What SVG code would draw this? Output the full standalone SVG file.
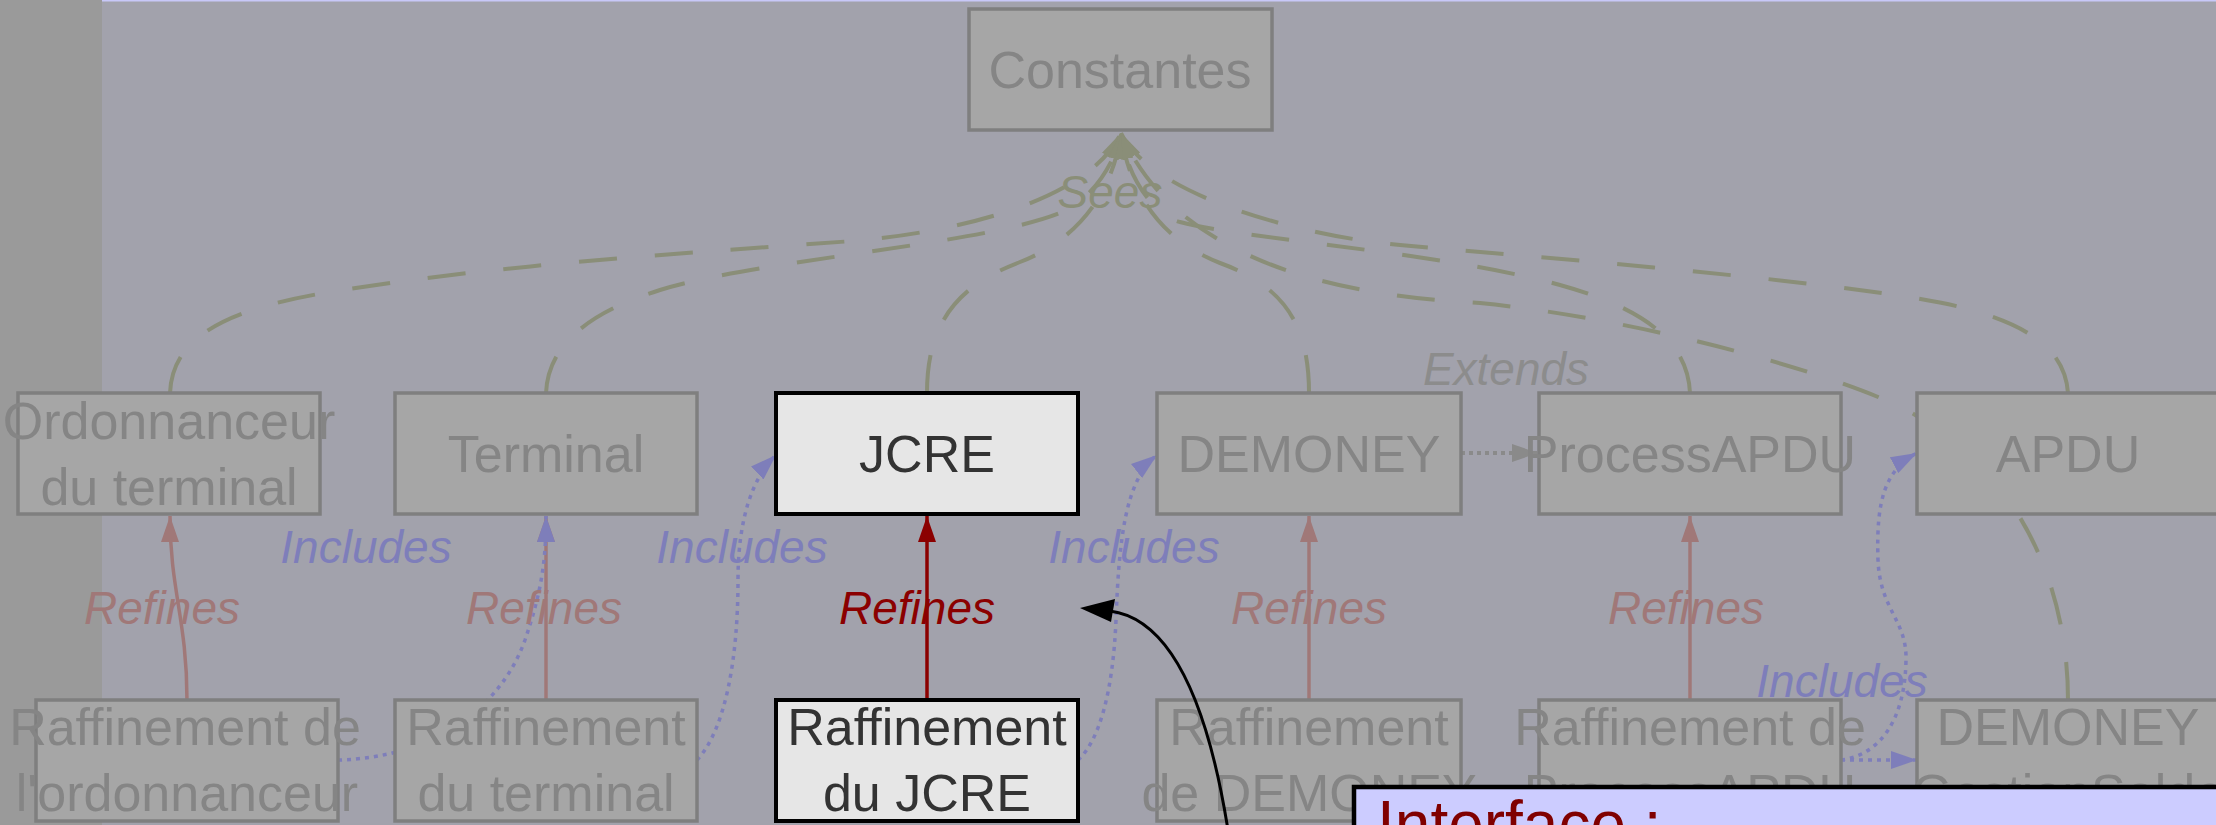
<svg xmlns="http://www.w3.org/2000/svg" width="2216" height="825" viewBox="0 0 2216 825">
<style>
.node rect{fill:#a6a6a6;stroke:#7f7f7f;stroke-width:3.5}
.node text{font-family:"Liberation Sans",Arial,sans-serif;font-size:52px;fill:#858585;text-anchor:middle}
.node.hl rect{fill:#e6e6e6;stroke:#000;stroke-width:4}
.node.hl text{fill:#333333}
.sees{fill:none;stroke:#8a8e78;stroke-width:4;stroke-dasharray:38 38;marker-end:url(#aS)}
.ref{fill:none;stroke:#a07878;stroke-width:3.5;marker-end:url(#aR)}
.ref.hl{stroke:#8b0000;marker-end:url(#aRh)}
.inc{fill:none;stroke:#7e7eba;stroke-width:3.5;stroke-dasharray:4 5;marker-end:url(#aI)}
.ext{fill:none;stroke:#8a8a8a;stroke-width:4;stroke-dasharray:4 4;marker-end:url(#aE)}
.lbl{font-family:"Liberation Sans",Arial,sans-serif;font-style:italic;font-size:46px;text-anchor:middle}
</style>
<defs>
<marker id="aS" markerUnits="userSpaceOnUse" viewBox="0 0 26 18" markerWidth="26" markerHeight="18" refX="26" refY="9" orient="auto"><path d="M0,0 L26,9 L0,18 z" fill="#8a8e78"/></marker>
<marker id="aR" markerUnits="userSpaceOnUse" viewBox="0 0 26 18" markerWidth="26" markerHeight="18" refX="26" refY="9" orient="auto"><path d="M0,0 L26,9 L0,18 z" fill="#a07878"/></marker>
<marker id="aRh" markerUnits="userSpaceOnUse" viewBox="0 0 26 18" markerWidth="26" markerHeight="18" refX="26" refY="9" orient="auto"><path d="M0,0 L26,9 L0,18 z" fill="#8b0000"/></marker>
<marker id="aI" markerUnits="userSpaceOnUse" viewBox="0 0 26 18" markerWidth="26" markerHeight="18" refX="26" refY="9" orient="auto"><path d="M0,0 L26,9 L0,18 z" fill="#7e7eba"/></marker>
<marker id="aE" markerUnits="userSpaceOnUse" viewBox="0 0 26 18" markerWidth="26" markerHeight="18" refX="26" refY="9" orient="auto"><path d="M0,0 L26,9 L0,18 z" fill="#8a8a8a"/></marker>
</defs>

<rect x="0" y="0" width="2216" height="825" fill="#a2a2ac"/>
<rect x="0" y="0" width="102" height="825" fill="#9a9a9a"/>
<rect x="102" y="0" width="2114" height="1.5" fill="#c8c8f8"/>

<g id="connectors">
  <!-- Sees -->
  <path class="sees" d="M170,393 C172,340 220,310 330,292 C500,264 700,252 853,241 C960,232 1090,200 1121,133"/>
  <path class="sees" d="M546,393 C548,350 580,315 660,290 C756,260 980,245 1060,213 C1090,201 1115,165 1121,133"/>
  <path class="sees" d="M927,393 C927,320 960,285 1020,262 C1070,243 1112,200 1121,133"/>
  <path class="sees" d="M1309,393 C1309,320 1280,285 1220,263 C1168,243 1130,200 1121,133"/>
  <path class="sees" d="M1690,393 C1688,345 1650,310 1560,285 C1440,252 1250,240 1180,222 C1150,214 1125,170 1121,133"/>
  <path class="sees" d="M2068,393 C2065,350 2030,325 1960,307 C1870,284 1550,258 1400,245 C1300,236 1150,195 1121,133"/>
  <path class="sees" d="M2068,700 C2068,600 2030,480 1912,413 C1850,378 1650,320 1480,303 C1360,297 1180,270 1121,133"/>
  <!-- Refines -->
  <path class="ref" d="M187,700 C187,620 170,590 170,516"/>
  <path class="ref" d="M546,700 L546,516"/>
  <path class="ref hl" d="M927,700 L927,516"/>
  <path class="ref" d="M1309,700 L1309,516"/>
  <path class="ref" d="M1690,700 L1690,516"/>
  <!-- Includes -->
  <path class="inc" d="M338,760 C430,758 500,710 525,640 C542,590 546,560 546,516"/>
  <path class="inc" d="M697,760 C725,730 738,660 738,580 C738,520 752,478 776,455"/>
  <path class="inc" d="M1078,760 C1100,740 1113,690 1116,620 C1119,540 1125,480 1157,455"/>
  <path class="inc" d="M1841,760 C1880,755 1905,720 1906,660 C1907,620 1880,610 1878,560 C1876,500 1885,470 1917,453"/>
  <path class="inc" d="M1841,760 L1917,760"/>
  <!-- Extends -->
  <path class="ext" d="M1461,453 L1538,453"/>
  <!-- labels -->
  <text class="lbl" x="1110" y="208" fill="#8a8e78">Sees</text>
  <text class="lbl" x="1506" y="385" fill="#8c8c8c">Extends</text>
  <text class="lbl" x="162" y="624" fill="#a07878">Refines</text>
  <text class="lbl" x="544" y="624" fill="#a07878">Refines</text>
  <text class="lbl" x="917" y="624" fill="#8b0000">Refines</text>
  <text class="lbl" x="1309" y="624" fill="#a07878">Refines</text>
  <text class="lbl" x="1686" y="624" fill="#a07878">Refines</text>
  <text class="lbl" x="366" y="563" fill="#7e7eba">Includes</text>
  <text class="lbl" x="742" y="563" fill="#7e7eba">Includes</text>
  <text class="lbl" x="1134" y="563" fill="#7e7eba">Includes</text>
  <text class="lbl" x="1842" y="697" fill="#7e7eba">Includes</text>
</g>

<g id="n-constantes" class="node"><rect x="969" y="9" width="303" height="121"/><text x="1120" y="88">Constantes</text></g>
<g id="n-ordonnanceur" class="node"><rect x="18" y="393" width="302" height="121"/><text x="169" y="439">Ordonnanceur</text><text x="169" y="505">du terminal</text></g>
<g id="n-terminal" class="node"><rect x="395" y="393" width="302" height="121"/><text x="546" y="472">Terminal</text></g>
<g id="n-jcre" class="node hl"><rect x="776" y="393" width="302" height="121"/><text x="927" y="472">JCRE</text></g>
<g id="n-demoney" class="node"><rect x="1157" y="393" width="304" height="121"/><text x="1309" y="472">DEMONEY</text></g>
<g id="n-processapdu" class="node"><rect x="1539" y="393" width="302" height="121"/><text x="1690" y="472">ProcessAPDU</text></g>
<g id="n-apdu" class="node"><rect x="1917" y="393" width="302" height="121"/><text x="2068" y="472">APDU</text></g>

<g id="n-raf-ordonnanceur" class="node"><rect x="36" y="700" width="302" height="121"/><text x="185" y="745">Raffinement de</text><text x="187" y="811">l'ordonnanceur</text></g>
<g id="n-raf-terminal" class="node"><rect x="395" y="700" width="302" height="121"/><text x="546" y="745">Raffinement</text><text x="546" y="811">du terminal</text></g>
<g id="n-raf-jcre" class="node hl"><rect x="776" y="700" width="302" height="121"/><text x="927" y="745">Raffinement</text><text x="927" y="811">du JCRE</text></g>
<g id="n-raf-demoney" class="node"><rect x="1157" y="700" width="304" height="121"/><text x="1309" y="745">Raffinement</text><text x="1309" y="811">de DEMONEY</text></g>
<g id="n-raf-processapdu" class="node"><rect x="1539" y="700" width="302" height="121"/><text x="1690" y="745">Raffinement de</text><text x="1690" y="811">ProcessAPDU</text></g>
<g id="n-demoney-gestionsolde" class="node"><rect x="1917" y="700" width="302" height="121"/><text x="2068" y="745">DEMONEY</text><text x="2068" y="811">GestionSolde</text></g>

<g id="annotation">
  <path d="M1228,830 C1212,730 1180,620 1110,611" fill="none" stroke="#000" stroke-width="3"/>
  <polygon points="1080,608 1115,599 1111,622" fill="#000"/>
  <rect x="1354" y="787" width="900" height="100" fill="#ccccff" stroke="#000" stroke-width="4.5"/>
  <text x="1377" y="846" font-family="'Liberation Sans',Arial,sans-serif" font-size="64" fill="#800000">Interface :</text>
</g>
</svg>
